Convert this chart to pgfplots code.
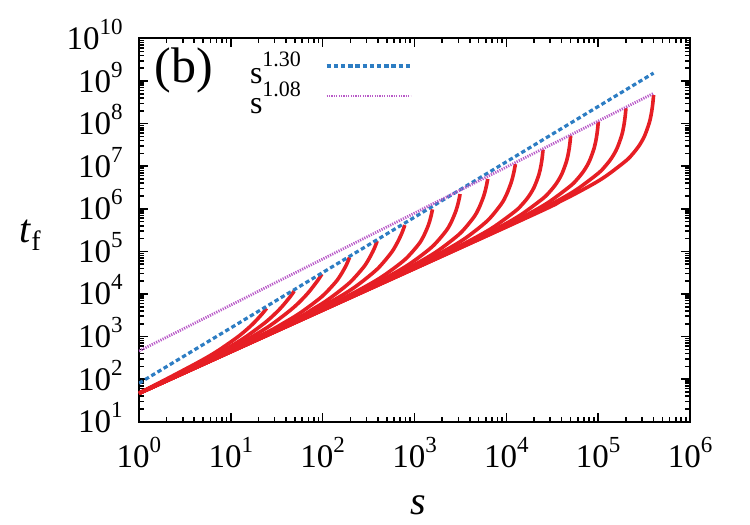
\documentclass[border=0pt]{standalone}
\usepackage{fontspec}
\setmainfont{Liberation Serif}
\usepackage{pgfplots}
\pgfplotsset{compat=1.18}

\definecolor{curvered}{RGB}{230,30,36}
\definecolor{fitblue}{RGB}{45,125,195}
\definecolor{fitpurple}{RGB}{185,90,200}

% power-of-ten tick label in the text font
\newcommand{\pw}[1]{10\raisebox{7.5pt}{\fontsize{11.5}{11.5}\selectfont #1}}
% legend entry s^{exponent}
\newcommand{\sx}[1]{s\raisebox{8.5pt}{\fontsize{11}{11}\selectfont #1}}

\pgfplotsset{
  tf curve/.style={color=curvered, line width=1.8pt, smooth, tension=0.5,
                   no markers, forget plot, line join=round},
}

\begin{document}
\begin{tikzpicture}
\begin{axis}[
  at={(0,0)}, anchor=south west,
  scale only axis, width=275.5pt, height=191.6pt,
  xmode=log, ymode=log,
  xmin=1, xmax=1e6, ymin=10, ymax=1e10,
  xtick={1,10,100,1000,10000,100000,1000000},
  xticklabels={\pw{0},\pw{1},\pw{2},\pw{3},\pw{4},\pw{5},\pw{6}},
  ytick={1e1,1e2,1e3,1e4,1e5,1e6,1e7,1e8,1e9,1e10},
  yticklabels={\pw{1},\pw{2},\pw{3},\pw{4},\pw{5},\pw{6},\pw{7},\pw{8},\pw{9},\pw{10}},
  minor xtick={2,3,4,5,6,7,8,9,20,30,40,50,60,70,80,90,200,300,400,500,600,700,800,900,
    2e3,3e3,4e3,5e3,6e3,7e3,8e3,9e3,2e4,3e4,4e4,5e4,6e4,7e4,8e4,9e4,
    2e5,3e5,4e5,5e5,6e5,7e5,8e5,9e5},
  minor ytick={20,30,40,50,60,70,80,90,200,300,400,500,600,700,800,900,
    2e3,3e3,4e3,5e3,6e3,7e3,8e3,9e3,2e4,3e4,4e4,5e4,6e4,7e4,8e4,9e4,
    2e5,3e5,4e5,5e5,6e5,7e5,8e5,9e5,2e6,3e6,4e6,5e6,6e6,7e6,8e6,9e6,
    2e7,3e7,4e7,5e7,6e7,7e7,8e7,9e7,2e8,3e8,4e8,5e8,6e8,7e8,8e8,9e8,
    2e9,3e9,4e9,5e9,6e9,7e9,8e9,9e9},
  tick align=inside, tick pos=both,
  axis line style={line width=1pt},
  every tick/.style={black, line width=0.8pt},
  major tick length=4.5pt, minor tick length=2.5pt,
  tick label style={font=\fontsize{16.5}{18}\selectfont},
  xticklabel style={anchor=base, yshift=-23pt, inner sep=0pt},
  yticklabel style={anchor=base east, yshift=-5.5pt, xshift=-8pt, inner sep=0pt},
  xlabel={\textit{s}},
  xlabel style={at={(axis description cs:0.5064,-0.2171)}, anchor=center,
                font=\fontsize{20}{20}\selectfont},
  ylabel={\textit{t}\raisebox{-4pt}{\fontsize{14}{14}\selectfont f}},
  ylabel style={at={(axis description cs:-0.1978,0.4875)}, anchor=center, rotate=-90,
                font=\fontsize{20}{20}\selectfont},
  legend plot pos=right,
  legend cell align=left,
  legend style={at={(rel axis cs:0.2015,0.944)}, anchor=north west,
    draw=none, fill=none, inner sep=0pt, outer sep=0pt,
    font=\fontsize{16}{16}\selectfont, row sep=0pt, column sep=12pt,
    nodes={inner sep=0pt, text height=12pt, text depth=3pt}},
  legend image code/.code={\draw[#1] (0pt,4.5pt) -- (42pt,4.5pt);},
]

% first-passage curves, one for each maximal size
\addplot[tf curve] coordinates {(1,46.5) (2.45,126.8) (4.9,281.4) (7.35,475) (12.25,1028) (17.15,1928) (22.05,3451) (24.5,4603)};
\addplot[tf curve] coordinates {(1,46.5) (4.9,255.9) (9.8,579.6) (14.7,999) (24.5,2268) (34.3,4484) (44.1,8517) (49,11720)};
\addplot[tf curve] coordinates {(1,46.5) (9.8,514.3) (19.6,1187) (29.4,2089) (49,4955) (68.6,10290) (88.2,20670) (98,29310)};
\addplot[tf curve] coordinates {(1,46.5) (19.6,979.7) (39.2,2194) (58.8,3766) (98,8678) (137.2,18540) (156.8,27680) (176.4,43060) (186.2,55020) (196,72110)};
\addplot[tf curve] coordinates {(1,46.5) (39.2,1951) (78.4,4421) (117.6,7689) (196,18290) (274.4,40730) (313.6,62400) (352.8,100200) (372.4,130400) (392,174600)};
\addplot[tf curve] coordinates {(1,46.5) (23.52,1071) (78.4,3873) (156.8,8872) (235.2,15620) (392,38280) (548.8,88550) (627.2,138900) (705.6,229700) (744.8,303900) (784,415000)};
\addplot[tf curve] coordinates {(1,46.5) (47.04,2086) (156.8,7353) (313.6,16270) (470.4,27720) (784,63860) (1097.6,142400) (1254.4,226600) (1411.2,404500) (1489.6,591100) (1536.6,779600) (1568,970500)};
\addplot[tf curve] coordinates {(1,46.5) (94.08,4113) (313.6,14530) (627.2,32350) (940.8,55530) (1568,130300) (2195.2,298600) (2508.8,484300) (2822.4,888000) (2979.2,1323000) (3073.3,1769000) (3136,2228000)};
\addplot[tf curve] coordinates {(1,46.5) (188.2,8093) (627.2,28630) (1254.4,64100) (1881.6,110800) (3136,264500) (4390.4,621400) (5017.6,1026000) (5644.8,1929000) (5958.4,2923000) (6146.6,3964000) (6272,5047000)};
\addplot[tf curve] coordinates {(1,46.5) (376.3,15880) (1254.4,56270) (2508.8,126500) (3763.2,220000) (6272,533600) (8780.8,1282000) (10035.2,2150000) (11289.6,4132000) (11916.8,6364000) (12293,8730000) (12544,11220000)};
\addplot[tf curve] coordinates {(1,46.5) (752.6,30730) (2508.8,106600) (5017.6,232900) (7526.4,392600) (12544,885100) (15052.8,1305000) (17561.6,1968000) (20070.4,3206000) (22579.2,6240000) (23833.6,10310000) (24586,16000000) (25088,24490000)};
\addplot[tf curve] coordinates {(1,46.5) (1505.3,60120) (5017.6,208500) (10035.2,456600) (15052.8,772100) (25088,1756000) (30105.6,2605000) (35123.2,3960000) (40140.8,6521000) (45158.4,12900000) (47667.2,21600000) (49172.5,33940000) (50176,52600000)};
\addplot[tf curve] coordinates {(1,46.5) (3010.6,117800) (10035,408600) (20070,896100) (30106,1519000) (50176,3479000) (60211,5187000) (70246,7932000) (80282,13180000) (90317,26420000) (95334,44730000) (98345,71010000) (100352,111200000)};
\addplot[tf curve] coordinates {(1,46.5) (6021,230000) (20070,796700) (40141,1748000) (60211,2970000) (100352,6845000) (120422,10250000) (140493,15760000) (160563,26360000) (180634,53510000) (190669,91410000) (196690,146400000) (200704,231200000)};
\addplot[tf curve] coordinates {(1,46.5) (12042,448600) (40141,1552000) (80282,3409000) (120422,5799000) (200704,13410000) (240845,20150000) (280986,31090000) (321126,52310000) (361267,107100000) (381338,184300000) (393380,296900000) (401408,472100000)};

% power-law guides
\addplot[color=fitblue, line width=1.6pt, dash pattern=on 2.2pt off 1.4pt]
  coordinates {(1,80) (401408,1.541e9)};
\addlegendentry{\sx{1.30}}
\addplot[color=fitpurple, line width=1.4pt, dash pattern=on 0.6pt off 0.6pt]
  coordinates {(1,457) (401408,5.152e8)};
\addlegendentry{\sx{1.08}}

\node[font=\fontsize{25}{25}\selectfont] at (rel axis cs:0.0817,0.9157) {(b)};
\end{axis}
\pgfresetboundingbox
\path[use as bounding box] (-69.5pt,-51.65pt) rectangle (305.5pt,210.85pt);
\end{tikzpicture}
\end{document}
